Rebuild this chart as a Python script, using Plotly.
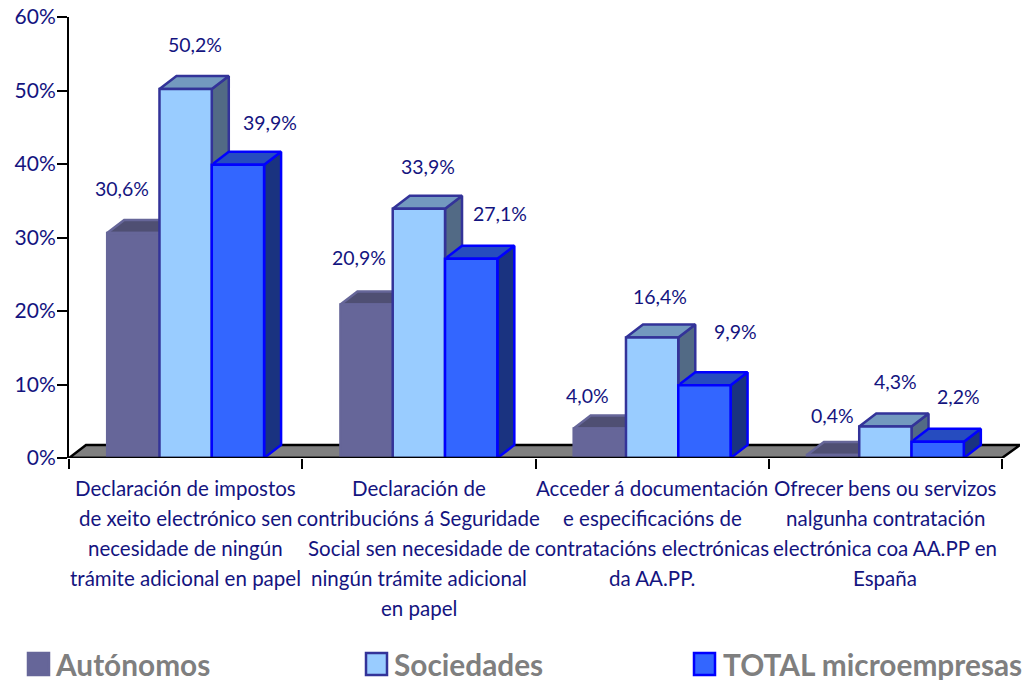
import plotly.graph_objects as go

# ---- data ----
CATEGORY_LINES = [
    ["Declaración de impostos", "de xeito electrónico sen", "necesidade de ningún", "trámite adicional en papel"],
    ["Declaración de", "contribucións á Seguridade", "Social sen necesidade de", "ningún trámite adicional", "en papel"],
    ["Acceder á documentación", "e especificacións de", "contratacións electrónicas", "da AA.PP."],
    ["Ofrecer bens ou servizos", "nalgunha contratación", "electrónica coa AA.PP en", "España"],
]
AUTONOMOS = [30.6, 20.9, 4.0, 0.4]
SOCIEDADES = [50.2, 33.9, 16.4, 4.3]
TOTAL = [39.9, 27.1, 9.9, 2.2]
Y_TICKS = [0, 10, 20, 30, 40, 50, 60]

# ---- layout constants (pixels) ----
W, H = 1026, 681
L, R, T, B = 69, 1020, 17, 458
CAT_PX = 233.25
DEPTH_X_PX, DEPTH_Y_PX = 17, 13
BAR_PX = 52.3
LW = 2.5
PX_Y = 60 / (B - T)
dx = DEPTH_X_PX / CAT_PX
dy = DEPTH_Y_PX * PX_Y
bw = BAR_PX / CAT_PX
X_RANGE = [-0.5, 3.5 + dx * (R - L - 4 * CAT_PX) / DEPTH_X_PX]
TXT = "#14147f"
FONT = "Lato"

SERIES = [
    dict(name="Autónomos", values=AUTONOMOS, front="#666699", line="#666699", top="#4f4f73", side="#3f3f5f"),
    dict(name="Sociedades", values=SOCIEDADES, front="#99CCFF", line="#333399", top="#7399BF", side="#526A85"),
    dict(name="TOTAL microempresas", values=TOTAL, front="#3366FF", line="#0000FF", top="#264CBF", side="#1A3380"),
]
# label offsets from the top-centre of each bar, in pixels (per series, per category)
LABEL_OFFSETS = [
    [(-11, 45), (-8, 47), (-12, 33), (-1, 40)],
    [(9, 45), (9, 42), (8, 41), (10, 45)],
    [(32, 42), (29, 45), (31, 54), (21, 45)],
]

fig = go.Figure()

# floor
fig.add_trace(go.Scatter(
    x=[-0.5, -0.5 + dx, X_RANGE[1], 3.5, -0.5], y=[0, dy, dy, 0, 0],
    mode="lines", fill="toself", fillcolor="#808080", line=dict(color="#000000", width=LW),
    hoverinfo="skip", showlegend=False, cliponaxis=False))

# depth faces, back to front
for i, s in enumerate(SERIES):
    tx, ty, sx, sy = [], [], [], []
    for c, v in enumerate(s["values"]):
        x0 = c + (i - 1) * bw - bw / 2
        x1 = x0 + bw
        tx += [x0, x0 + dx, x1 + dx, x1, x0, None]
        ty += [v, v + dy, v + dy, v, v, None]
        sx += [x1, x1 + dx, x1 + dx, x1, x1, None]
        sy += [0, dy, v + dy, v, 0, None]
    fig.add_trace(go.Scatter(x=sx, y=sy, mode="lines", fill="toself", fillcolor=s["side"],
                             line=dict(color=s["line"], width=LW), hoverinfo="skip",
                             showlegend=False, cliponaxis=False))
    fig.add_trace(go.Scatter(x=tx, y=ty, mode="lines", fill="toself", fillcolor=s["top"],
                             line=dict(color=s["line"], width=LW), hoverinfo="skip",
                             showlegend=False, cliponaxis=False))

# front faces in an overlay subplot, so they cover the depth faces
for s in SERIES:
    fig.add_trace(go.Bar(x=[0, 1, 2, 3], y=s["values"], name=s["name"], xaxis="x2", yaxis="y2",
                         marker=dict(color=s["front"], line=dict(color=s["line"], width=LW)),
                         showlegend=False, cliponaxis=False))

# category axis line
fig.add_trace(go.Scatter(x=[-0.5, 3.5], y=[0, 0], mode="lines", xaxis="x2", yaxis="y2",
                         line=dict(color="#000000", width=LW), hoverinfo="skip",
                         showlegend=False, cliponaxis=False))

ann = []
# data labels
for i, s in enumerate(SERIES):
    for c, v in enumerate(s["values"]):
        ox, oy = LABEL_OFFSETS[i][c]
        ann.append(dict(x=c + (i - 1) * bw, y=v, xref="x", yref="y", xshift=ox, yshift=oy,
                        text=f"{v:.1f}".replace(".", ",") + "%", showarrow=False,
                        font=dict(family=FONT, size=19.5, color=TXT)))
# category labels
for c, lines in enumerate(CATEGORY_LINES):
    for n, line in enumerate(lines):
        ann.append(dict(x=c, y=0, xref="x", yref="y", yshift=-30 - 30 * n, text=line, showarrow=False,
                        font=dict(family=FONT, size=20.5, color=TXT)))

# legend
def px(v):
    return (v - L) / (R - L)
def py(v):
    return (B - v) / (B - T)

shapes = []
for s, x0, tx, w in zip(SERIES, [28, 366, 694], [53, 392, 721], [21, 21, 21]):
    shapes.append(dict(type="rect", xref="paper", yref="paper", x0=px(x0), x1=px(x0 + w),
                       y0=py(675), y1=py(653), fillcolor=s["front"], line=dict(color=s["line"], width=LW)))
    ann.append(dict(x=px(tx), y=py(664.5), xref="paper", yref="paper", xanchor="left", yanchor="middle",
                    height=31, text=f"<b>{s['name']}</b>", showarrow=False,
                    font=dict(family=FONT, size=29.8, color="#7f7f7f")))

fig.update_layout(
    width=W, height=H, margin=dict(l=L, r=W - R, t=T, b=H - B, autoexpand=False),
    plot_bgcolor="#ffffff", paper_bgcolor="#ffffff", showlegend=False,
    barmode="group", bargap=0.3275, bargroupgap=0,
    xaxis=dict(range=X_RANGE, showgrid=False, zeroline=False, showline=False, showticklabels=False,
               tickvals=[-0.5, 0.5, 1.5, 2.5, 3.5], ticks="outside", ticklen=10, tickwidth=2, tickcolor="#000000"),
    yaxis=dict(range=[0, 60], tickvals=Y_TICKS, ticktext=[f"{t}%" for t in Y_TICKS], showgrid=False,
               zeroline=False, showline=True, linecolor="#000000", linewidth=2, ticks="outside",
               ticklen=10, tickwidth=2, tickcolor="#000000", ticklabelstandoff=-3,
               tickfont=dict(family=FONT, size=21, color=TXT)),
    xaxis2=dict(range=X_RANGE, overlaying="x", visible=False),
    yaxis2=dict(range=[0, 60], overlaying="y", visible=False),
    annotations=ann, shapes=shapes,
)

fig.write_html("out.html", config=dict(displayModeBar=False),
               post_script="document.body.style.margin='0';document.documentElement.style.overflow='hidden';")
